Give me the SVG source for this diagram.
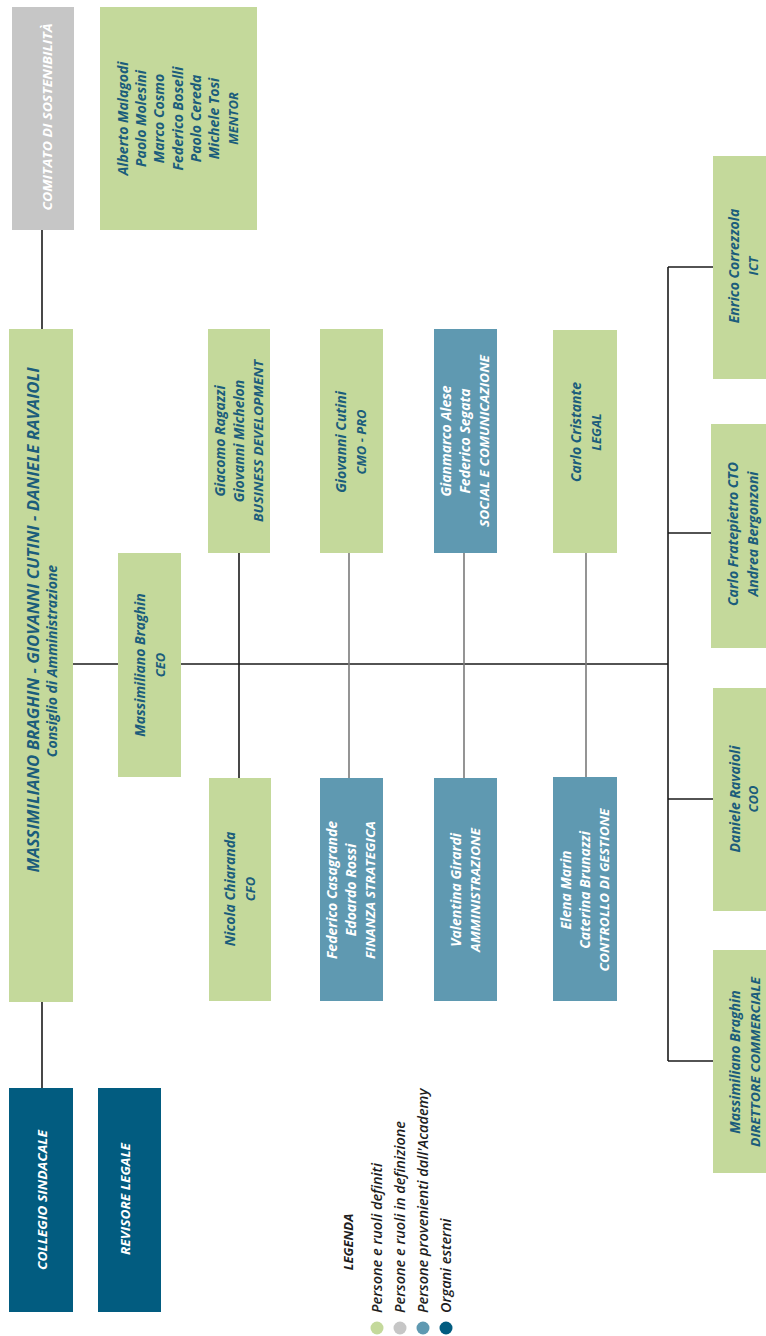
<svg xmlns="http://www.w3.org/2000/svg" width="766" height="1336" viewBox="0 0 766 1336">
<style>
.bg{fill:#ffffff}
.g{fill:#c4d99b}
.gr{fill:#c6c6c6}
.b{fill:#5f99b1}
.d{fill:#025c80}
.t{font-family:"Open Sans","Liberation Sans",sans-serif;font-style:italic;font-weight:700;font-size:14px;text-anchor:middle}
.c{font-size:13px}
.dk{fill:#1b5d7b}
.wh{fill:#ffffff}
.k{stroke:#1a1a1a;stroke-width:1.6;fill:none}
.s{stroke:#7a7a7a;stroke-width:1.6;fill:none}
.lg{font-family:"Open Sans","Liberation Sans",sans-serif;font-style:italic;font-weight:600;font-size:14.5px;fill:#1e1e1e}
</style>
<rect class="bg" x="0" y="0" width="766" height="1336"/>
<g id="connectors">
<line class="k" x1="42" y1="230" x2="42" y2="329"/>
<line class="k" x1="42" y1="1002" x2="42" y2="1088"/>
<line class="k" x1="73" y1="664" x2="668" y2="664"/>
<line class="k" x1="239" y1="553" x2="239" y2="778"/>
<line class="s" x1="349" y1="553" x2="349" y2="778"/>
<line class="s" x1="464" y1="553" x2="464" y2="778"/>
<line class="s" x1="586" y1="553" x2="586" y2="777"/>
<line class="k" x1="668" y1="267" x2="668" y2="1061"/>
<line class="k" x1="668" y1="267" x2="713" y2="267"/>
<line class="k" x1="668" y1="533" x2="711" y2="533"/>
<line class="k" x1="668" y1="799" x2="713" y2="799"/>
<line class="k" x1="668" y1="1061" x2="713" y2="1061"/>
</g>
<g id="comitato">
<rect class="gr" x="12" y="7" width="62" height="223"/>
<text class="t wh c" transform="translate(0,117) rotate(-90)"><tspan x="0" y="51.5" textLength="187" lengthAdjust="spacingAndGlyphs">COMITATO DI SOSTENIBILITÀ</tspan></text>
</g>
<g id="mentor">
<rect class="g" x="100" y="7" width="157" height="223"/>
<text class="t dk" transform="translate(0,118.5) rotate(-90)"><tspan x="0" y="127.5">Alberto Malagodi</tspan><tspan x="0" y="145.8">Paolo Molesini</tspan><tspan x="0" y="164.2">Marco Cosmo</tspan><tspan x="0" y="182.5">Federico Boselli</tspan><tspan x="0" y="200.8">Paolo Cereda</tspan><tspan x="0" y="219.2">Michele Tosi</tspan><tspan x="0" y="237.5" font-size="13">MENTOR</tspan></text>
</g>
<g id="cda">
<rect class="g" x="9" y="329" width="64" height="673"/>
<text class="t dk" style="font-size:15.5px" transform="translate(0,620) rotate(-90)"><tspan x="0" y="38.5" textLength="505" lengthAdjust="spacingAndGlyphs">MASSIMILIANO BRAGHIN - GIOVANNI CUTINI - DANIELE RAVAIOLI</tspan></text>
<text class="t dk" transform="translate(0,661) rotate(-90)"><tspan x="0" y="56.5">Consiglio di Amministrazione</tspan></text>
</g>
<g id="ceo">
<rect class="g" x="118" y="553" width="63" height="224"/>
<text class="t dk" transform="translate(0,665) rotate(-90)"><tspan x="0" y="144.5">Massimiliano Braghin</tspan><tspan x="0" y="164.5" font-size="13">CEO</tspan></text>
</g>
<g id="bizdev">
<rect class="g" x="208" y="329" width="62" height="224"/>
<text class="t dk" transform="translate(0,441) rotate(-90)"><tspan x="0" y="224.5">Giacomo Ragazzi</tspan><tspan x="0" y="243.5">Giovanni Michelon</tspan><tspan x="0" y="262.5" font-size="13" textLength="162" lengthAdjust="spacingAndGlyphs">BUSINESS DEVELOPMENT</tspan></text>
</g>
<g id="cfo">
<rect class="g" x="209" y="778" width="62" height="223"/>
<text class="t dk" transform="translate(0,889) rotate(-90)"><tspan x="0" y="234.5">Nicola Chiaranda</tspan><tspan x="0" y="254.5" font-size="13">CFO</tspan></text>
</g>
<g id="cmo">
<rect class="g" x="320" y="329" width="63" height="224"/>
<text class="t dk" transform="translate(0,442) rotate(-90)"><tspan x="0" y="346">Giovanni Cutini</tspan><tspan x="0" y="366" font-size="13">CMO - PRO</tspan></text>
</g>
<g id="social">
<rect class="b" x="434" y="329" width="63" height="224"/>
<text class="t wh" transform="translate(0,441) rotate(-90)"><tspan x="0" y="451">Gianmarco Alese</tspan><tspan x="0" y="470">Federico Segata</tspan><tspan x="0" y="489" font-size="13" textLength="172" lengthAdjust="spacingAndGlyphs">SOCIAL E COMUNICAZIONE</tspan></text>
</g>
<g id="legal">
<rect class="g" x="553" y="330" width="64" height="223"/>
<text class="t dk" transform="translate(0,432) rotate(-90)"><tspan x="0" y="580.5">Carlo Cristante</tspan><tspan x="0" y="600.5" font-size="13">LEGAL</tspan></text>
</g>
<g id="finanza">
<rect class="b" x="320" y="778" width="63" height="223"/>
<text class="t wh" transform="translate(0,890) rotate(-90)"><tspan x="0" y="337">Federico Casagrande</tspan><tspan x="0" y="356">Edoardo Rossi</tspan><tspan x="0" y="375" font-size="13" textLength="138" lengthAdjust="spacingAndGlyphs">FINANZA STRATEGICA</tspan></text>
</g>
<g id="amministrazione">
<rect class="b" x="434" y="778" width="63" height="223"/>
<text class="t wh" transform="translate(0,890) rotate(-90)"><tspan x="0" y="460.5">Valentina Girardi</tspan><tspan x="0" y="479.5" font-size="13" textLength="124" lengthAdjust="spacingAndGlyphs">AMMINISTRAZIONE</tspan></text>
</g>
<g id="controllo">
<rect class="b" x="553" y="777" width="64" height="224"/>
<text class="t wh" transform="translate(0,890) rotate(-90)"><tspan x="0" y="570.5">Elena Marin</tspan><tspan x="0" y="589.5">Caterina Brunazzi</tspan><tspan x="0" y="608.5" font-size="13" textLength="163" lengthAdjust="spacingAndGlyphs">CONTROLLO DI GESTIONE</tspan></text>
</g>
<g id="ict">
<rect class="g" x="713" y="156" width="62" height="223"/>
<text class="t dk" transform="translate(0,266) rotate(-90)"><tspan x="0" y="738.5">Enrico Correzzola</tspan><tspan x="0" y="757.5" font-size="13">ICT</tspan></text>
</g>
<g id="cto">
<rect class="g" x="711" y="424" width="64" height="224"/>
<text class="t dk" transform="translate(0,534) rotate(-90)"><tspan x="0" y="738">Carlo Fratepietro CTO</tspan><tspan x="0" y="757.5">Andrea Bergonzoni</tspan></text>
</g>
<g id="coo">
<rect class="g" x="713" y="688" width="62" height="223"/>
<text class="t dk" transform="translate(0,799) rotate(-90)"><tspan x="0" y="739.5">Daniele Ravaioli</tspan><tspan x="0" y="758" font-size="13">COO</tspan></text>
</g>
<g id="direttore">
<rect class="g" x="713" y="950" width="62" height="223"/>
<text class="t dk" transform="translate(0,1062) rotate(-90)"><tspan x="0" y="739.5">Massimiliano Braghin</tspan><tspan x="0" y="759.5" font-size="13" textLength="170" lengthAdjust="spacingAndGlyphs">DIRETTORE COMMERCIALE</tspan></text>
</g>
<g id="collegio">
<rect class="d" x="9" y="1088" width="64" height="224"/>
<text class="t wh c" transform="translate(0,1200) rotate(-90)"><tspan x="0" y="46.5" textLength="140" lengthAdjust="spacingAndGlyphs">COLLEGIO SINDACALE</tspan></text>
</g>
<g id="revisore">
<rect class="d" x="98" y="1088" width="63" height="224"/>
<text class="t wh c" transform="translate(0,1199) rotate(-90)"><tspan x="0" y="129.5" textLength="112" lengthAdjust="spacingAndGlyphs">REVISORE LEGALE</tspan></text>
</g>
<g id="legend">
<text class="lg" text-anchor="middle" style="font-size:13px;font-weight:700" transform="translate(0,1242) rotate(-90)"><tspan x="0" y="352.5">LEGENDA</tspan></text>
<circle class="g" cx="377" cy="1328" r="6.5"/>
<circle class="gr" cx="400" cy="1328" r="6.5"/>
<circle class="b" cx="423" cy="1328" r="6.5"/>
<circle class="d" cx="446" cy="1328" r="6.5"/>
<text class="lg" transform="translate(0,1313) rotate(-90)"><tspan x="0" y="382">Persone e ruoli definiti</tspan><tspan x="0" y="405">Persone e ruoli in definizione</tspan><tspan x="0" y="428">Persone provenienti dall'Academy</tspan><tspan x="0" y="451">Organi esterni</tspan></text>
</g>
</svg>
